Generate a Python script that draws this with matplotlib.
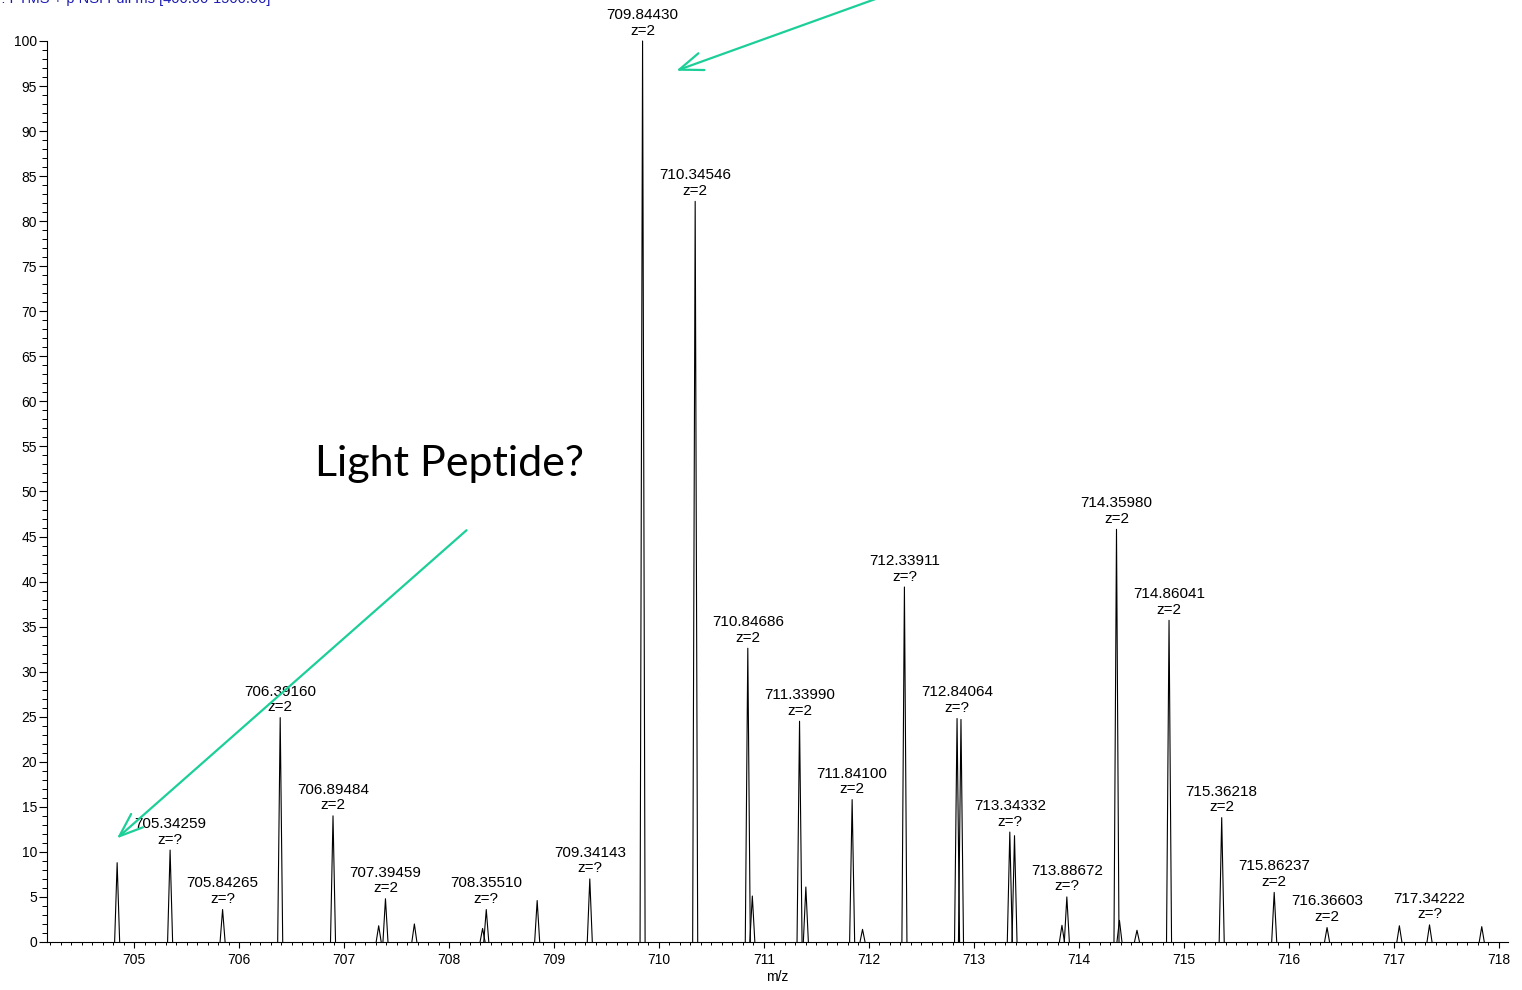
import numpy as np
import matplotlib
matplotlib.use("Agg")
import matplotlib.pyplot as plt
from matplotlib.ticker import MultipleLocator

plt.rcParams['font.family'] = ['Liberation Sans', 'DejaVu Sans']

# peak centroids (m/z) and relative abundance (%)
mz = [704.838, 705.3426, 705.8427, 706.3916, 706.8948, 707.33, 707.3946, 707.67,
      708.32, 708.3551, 708.84, 709.3414, 709.8443, 710.3455, 710.8469, 710.89,
      711.3399, 711.40, 711.8410, 711.94, 712.3391, 712.8406, 712.878,
      713.3433, 713.388, 713.84, 713.8867, 714.3598, 714.388, 714.555,
      714.8604, 715.3622, 715.8624, 716.3660, 717.055, 717.3422, 717.84]
inten = [8.8, 10.2, 3.6, 24.9, 14.0, 1.8, 4.8, 2.0,
         1.5, 3.6, 4.6, 7.0, 100.0, 82.2, 32.6, 5.1,
         24.5, 6.1, 15.8, 1.4, 39.4, 24.8, 24.7,
         12.2, 11.8, 1.85, 5.0, 45.8, 2.4, 1.3,
         35.7, 13.8, 5.5, 1.6, 1.8, 1.9, 1.7]

# labelled peaks
lab_mz = [705.34259, 705.84265, 706.39160, 706.89484, 707.39459, 708.35510,
          709.34143, 709.84430, 710.34546, 710.84686, 711.33990, 711.84100,
          712.33911, 712.84064, 713.34332, 713.88672, 714.35980, 714.86041,
          715.36218, 715.86237, 716.36603, 717.34222]
lab_h = [10.2, 3.6, 24.9, 14.0, 4.8, 3.6,
         7.0, 100.0, 82.2, 32.6, 24.5, 15.8,
         39.4, 24.8, 12.2, 5.0, 45.8, 35.7,
         13.8, 5.5, 1.6, 1.9]
lab_z = ['?', '?', '2', '2', '2', '?',
         '?', '2', '2', '2', '2', '2',
         '?', '?', '?', '?', '2', '2',
         '2', '2', '2', '?']

fig = plt.figure(figsize=(15.22, 9.9), dpi=100)
ax = fig.add_axes([0.0309, 0.0485, 0.9599, 0.9101])

hw = 0.024
for c, h in zip(mz, inten):
    ax.plot([c - hw, c, c + hw], [0, h, 0], color='black', lw=0.8, clip_on=False)

for c, h, z in zip(lab_mz, lab_h, lab_z):
    ax.annotate('%.5f\nz=%s' % (c, z), xy=(c, h), xytext=(0, 2.5),
                textcoords='offset points', ha='center', va='bottom',
                fontsize=11, linespacing=1.15, annotation_clip=False)

ax.set_xlim(704.17, 718.09)
ax.set_ylim(0, 100)
for s in ['top', 'right']:
    ax.spines[s].set_visible(False)
for s in ['left', 'bottom']:
    ax.spines[s].set_linewidth(0.8)

ax.xaxis.set_major_locator(MultipleLocator(1))
ax.xaxis.set_minor_locator(MultipleLocator(0.1))
ax.yaxis.set_major_locator(MultipleLocator(5))
ax.yaxis.set_minor_locator(MultipleLocator(1))
ax.tick_params(axis='x', which='major', length=4.3, width=0.8, pad=3.5, labelsize=10)
ax.tick_params(axis='x', which='minor', length=2.5, width=0.7)
ax.tick_params(axis='y', which='major', length=5.8, width=0.8, pad=1.5, labelsize=10)
ax.tick_params(axis='y', which='minor', length=3.5, width=0.7)
ax.set_xlabel('m/z', fontsize=10, labelpad=2)

green = '#1ccf98'
head = '->,head_length=0.85,head_width=0.32'
ax.annotate('', xy=(704.836, 11.5), xytext=(708.167, 45.7),
            arrowprops=dict(arrowstyle=head, color=green, lw=1.6,
                            mutation_scale=20, shrinkA=0, shrinkB=0),
            annotation_clip=False)
ax.annotate('', xy=(710.165, 96.7), xytext=(712.097, 104.8),
            arrowprops=dict(arrowstyle=head, color=green, lw=1.6,
                            mutation_scale=20, shrinkA=0, shrinkB=0),
            annotation_clip=False)

ax.text(708.0, 53.0, 'Light Peptide?', fontsize=31, family='Lato',
        ha='center', va='center')

fig.text(270 / 1522, 1 - 3 / 990, 'T: FTMS + p NSI Full ms [400.00-1500.00]',
         color='#1c1cb4', fontsize=10.5, ha='right', va='baseline')

fig.savefig('out.png', dpi=100)
